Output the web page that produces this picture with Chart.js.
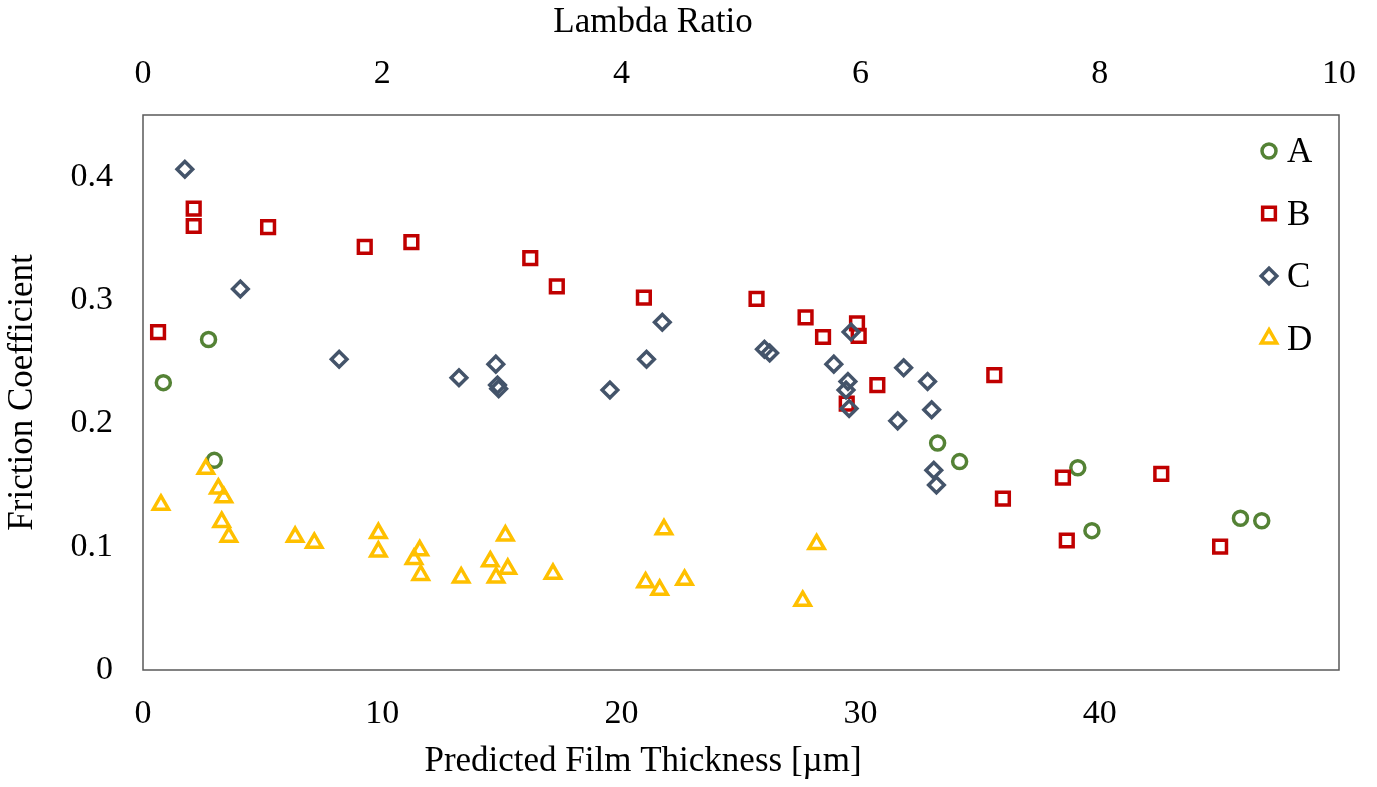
<!DOCTYPE html>
<html>
<head>
<meta charset="utf-8">
<title>Friction Coefficient vs Predicted Film Thickness</title>
<script src="https://cdn.jsdelivr.net/npm/chart.js@4.4.0/dist/chart.umd.min.js"></script>
<style>
  html, body { margin: 0; padding: 0; background: #fff; }
  #wrap { width: 1377px; height: 787px; }
</style>
</head>
<body>
<div id="wrap"><canvas id="chart" width="1377" height="787"></canvas></div>
<script>
// series A (circles)
const aX = [0.85, 2.74, 2.98, 33.22, 34.14, 39.08, 39.67, 45.88, 46.77];
const aY = [0.233, 0.268, 0.170, 0.184, 0.169, 0.164, 0.113, 0.123, 0.121];

// series B (squares)
const bX = [0.63, 2.12, 2.12, 5.23, 9.27, 11.22, 16.19, 17.30, 20.94, 25.65, 27.70,
            28.43, 29.85, 29.92, 29.42, 30.70, 35.59, 35.95, 38.46, 38.62, 42.57, 45.03];
const bY = [0.274, 0.374, 0.360, 0.359, 0.343, 0.347, 0.334, 0.311, 0.302, 0.301, 0.286,
            0.270, 0.281, 0.271, 0.216, 0.231, 0.239, 0.139, 0.156, 0.105, 0.159, 0.100];

// series C (diamonds)
const cX = [1.75, 4.07, 8.20, 13.21, 14.75, 14.82, 14.87, 19.52, 21.05, 21.71, 25.98, 26.20,
            28.88, 29.47, 29.39, 29.52, 29.60, 31.80, 31.55, 32.80, 32.97, 33.06, 33.17];
const cY = [0.406, 0.309, 0.252, 0.237, 0.248, 0.231, 0.228, 0.227, 0.252, 0.282, 0.260, 0.257,
            0.248, 0.234, 0.227, 0.212, 0.274, 0.245, 0.202, 0.234, 0.211, 0.162, 0.150];

// series D (triangles)
const dX = [0.75, 2.63, 3.15, 3.38, 3.29, 3.59, 6.36, 7.16, 9.84, 9.84, 11.57, 11.33, 11.61,
            13.30, 14.52, 14.76, 15.15, 15.25, 17.14, 21.01, 21.60, 21.78, 22.64, 27.58, 28.16];
const dY = [0.134, 0.163, 0.147, 0.140, 0.120, 0.108, 0.108, 0.103, 0.111, 0.096, 0.097, 0.090, 0.077,
            0.075, 0.088, 0.075, 0.109, 0.082, 0.078, 0.071, 0.065, 0.114, 0.073, 0.056, 0.102];

const seriesNames = ['A', 'B', 'C', 'D'];
const xTicks = [0, 10, 20, 30, 40];
const lambdaTicks = [0, 2, 4, 6, 8, 10];
const yTicks = [0, 0.1, 0.2, 0.3, 0.4];

const SERIF = "'Liberation Serif', 'Times New Roman', serif";

function toPoints(xs, ys) {
  return xs.map((x, i) => ({ x: x, y: ys[i] }));
}

function onlyTicks(list) {
  return function (v) {
    return list.some(t => Math.abs(t - v) < 1e-9) ? String(v) : '';
  };
}

function series(name, xs, ys, color, style, radius, order) {
  return {
    label: name,
    data: toPoints(xs, ys),
    pointStyle: style,
    pointRadius: radius,
    pointHoverRadius: radius,
    pointBorderWidth: 3.5,
    borderColor: color,
    backgroundColor: 'rgba(0,0,0,0)',
    order: order
  };
}

// frame round the plot area, x axis titles and the legend inside the plot
const framePlugin = {
  id: 'framePlugin',
  beforeDatasetsDraw(chart) {
    const { ctx, chartArea: a } = chart;
    ctx.save();
    ctx.strokeStyle = '#595959';
    ctx.lineWidth = 1.5;
    ctx.strokeRect(a.left, a.top, a.right - a.left, a.bottom - a.top);
    ctx.restore();
  },
  afterDraw(chart) {
    const { ctx, chartArea: a } = chart;
    ctx.save();
    ctx.fillStyle = '#000';
    ctx.font = '35px ' + SERIF;
    ctx.textAlign = 'center';
    ctx.textBaseline = 'middle';
    ctx.fillText('Predicted Film Thickness [µm]', 643, 762);
    ctx.fillText('Lambda Ratio', 653, 23);

    ctx.textAlign = 'left';
    chart.data.datasets.forEach((ds, i) => {
      const x = a.right - 70;
      const y = a.top + 36 + i * 62.5;
      ctx.strokeStyle = ds.borderColor;
      ctx.fillStyle = 'rgba(0,0,0,0)';
      ctx.lineWidth = ds.pointBorderWidth;
      Chart.helpers.drawPoint(ctx, {
        pointStyle: ds.pointStyle,
        radius: ds.pointRadius,
        borderWidth: ds.pointBorderWidth,
        rotation: 0
      }, x, y);
      ctx.fillStyle = '#000';
      ctx.fillText(ds.label, x + 18, y + 2);
    });
    ctx.restore();
  }
};

const tickFont = { family: SERIF, size: 34 };

new Chart(document.getElementById('chart'), {
  type: 'scatter',
  data: {
    datasets: [
      series(seriesNames[0], aX, aY, '#548235', 'circle', 7, 4),
      series(seriesNames[1], bX, bY, '#C00000', 'rect', 9, 3),
      series(seriesNames[2], cX, cY, '#44546A', 'rectRot', 7.8, 2),
      series(seriesNames[3], dX, dY, '#FFC000', 'triangle', 8.8, 1)
    ]
  },
  options: {
    responsive: false,
    animation: false,
    layout: { padding: { left: 0, right: 37, top: 0, bottom: 0 } },
    plugins: {
      legend: { display: false },
      tooltip: { enabled: false }
    },
    scales: {
      x: {
        type: 'linear',
        position: 'bottom',
        min: 0,
        max: 50,
        grid: { display: false, drawTicks: false },
        border: { display: false },
        ticks: { stepSize: 10, padding: 24, color: '#000', font: tickFont, callback: onlyTicks(xTicks) },
        afterFit: s => { s.height = 117; }
      },
      lambda: {
        type: 'linear',
        position: 'top',
        min: 0,
        max: 10,
        grid: { display: false, drawTicks: false },
        border: { display: false },
        ticks: { stepSize: 2, padding: 21, color: '#000', font: tickFont, callback: onlyTicks(lambdaTicks) },
        afterFit: s => { s.height = 115; }
      },
      y: {
        type: 'linear',
        min: 0,
        max: 0.45,
        grid: { display: false, drawTicks: false },
        border: { display: false },
        ticks: { stepSize: 0.1, includeBounds: false, padding: 30, color: '#000', font: tickFont, callback: onlyTicks(yTicks) },
        title: {
          display: true,
          text: 'Friction Coefficient',
          color: '#000',
          font: { family: SERIF, size: 35 },
          padding: { top: 2, bottom: 0 }
        },
        afterFit: s => { s.width = 143; }
      }
    }
  },
  plugins: [framePlugin]
});
</script>
</body>
</html>
